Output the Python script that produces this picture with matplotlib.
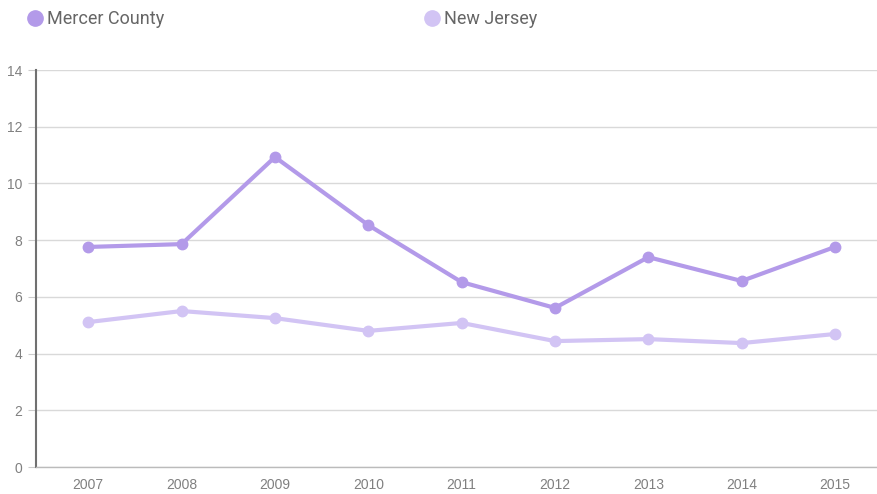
import matplotlib.pyplot as plt
from matplotlib.lines import Line2D

plt.rcParams['font.family'] = ['Roboto', 'DejaVu Sans']

years = ['2007', '2008', '2009', '2010', '2011', '2012', '2013', '2014', '2015']
mercer = [7.76, 7.86, 10.93, 8.53, 6.52, 5.61, 7.40, 6.56, 7.76]
new_jersey = [5.11, 5.50, 5.25, 4.80, 5.08, 4.44, 4.51, 4.37, 4.69]

c_mercer = '#b39ae9'
c_nj = '#d2c4f4'
text_col = '#808080'

fig = plt.figure(figsize=(8.77, 4.94), dpi=100)
W, H = 877, 494
ax = fig.add_axes([36 / W, (H - 467) / H, (877 - 36) / W, (467 - 70) / H])

x = list(range(len(years)))
ax.plot(x, new_jersey, '-o', color=c_nj, lw=3, ms=7.5, zorder=3)
ax.plot(x, mercer, '-o', color=c_mercer, lw=3, ms=7.5, zorder=4)

ax.set_xlim(-0.56, 8.45)
ax.set_ylim(0, 14)
ax.set_yticks(range(0, 15, 2))
ax.set_xticks(x)
ax.set_xticklabels(years)
ax.grid(axis='y', color='#d9d9d9', lw=1)
ax.set_axisbelow(True)

for s in ['top', 'right']:
    ax.spines[s].set_visible(False)
ax.spines['left'].set_color('#707070')
ax.spines['left'].set_linewidth(1.5)
ax.spines['bottom'].set_color('#bbbbbb')
ax.spines['bottom'].set_linewidth(1)
ax.tick_params(axis='y', colors='#cccccc', labelcolor=text_col, labelsize=10, length=6, pad=4)
ax.tick_params(axis='x', length=0, labelcolor=text_col, labelsize=10, pad=8)
for lab in ax.get_xticklabels() + ax.get_yticklabels():
    lab.set_fontfamily('Liberation Sans')

# legend at top
handles = [Line2D([], [], ls='', marker='o', ms=11, color=c_mercer),
           Line2D([], [], ls='', marker='o', ms=11, color=c_nj)]
fig.legend(handles[:1], ['Mercer County'], loc='center left', bbox_to_anchor=(10 / W, 1 - 19 / H),
           frameon=False, handletextpad=0.15, fontsize=13, labelcolor='#666666', handlelength=1)
fig.legend(handles[1:], ['New Jersey'], loc='center left', bbox_to_anchor=(407 / W, 1 - 19 / H),
           frameon=False, handletextpad=0.15, fontsize=13, labelcolor='#666666', handlelength=1)

fig.savefig('out.png', dpi=100)
